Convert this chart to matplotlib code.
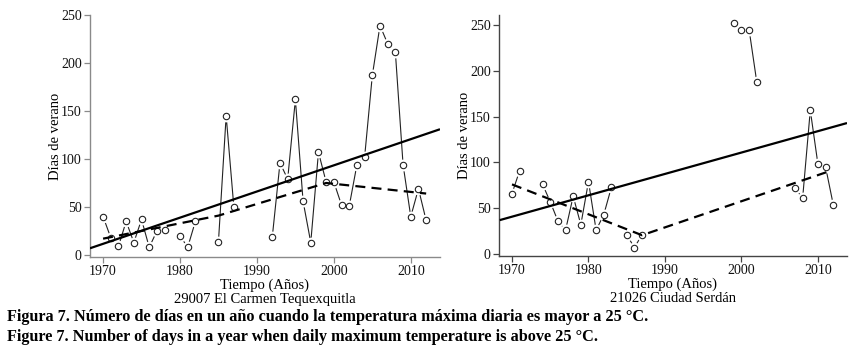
import numpy as np
import matplotlib
matplotlib.use("Agg")
import matplotlib.pyplot as plt

plt.rcParams['font.family'] = ['Liberation Serif', 'DejaVu Serif']

nan = np.nan
# ---- Panel 1: 29007 El Carmen Tequexquitla ----
years1 = list(range(1970, 2013))
vals1 = [40, 18, 9, 35, 13, 37, 8, 25, 26, nan,
         20, 8, 35, nan, nan, 14, 145, 50, nan, nan,
         nan, nan, 19, 96, 79, 162, 56, 13, 107, 76,
         76, 52, 51, 94, 102, 187, 239, 220, 211, 94,
         40, 69, 36]
trend1_x = [1968.3, 2013.8]
trend1_y = [7, 131]
smooth1_x = [1970, 1985, 1999, 2012]
smooth1_y = [17, 41, 75, 64]

# ---- Panel 2: 21026 Ciudad Serdán ----
years2 = list(range(1970, 2013))
vals2 = [66, 91, nan, nan, 76, 57, 36, 26, 63, 32,
         79, 26, 43, 73, nan, 21, 7, 21, nan, nan,
         nan, nan, nan, nan, nan, nan, nan, nan, nan, 252,
         245, 245, 188, nan, nan, nan, nan, 72, 61, 157,
         98, 95, 54]
trend2_x = [1968.4, 2013.8]
trend2_y = [37, 143]
smooth2_x = [1970, 1987, 2011.7]
smooth2_y = [76, 20.5, 91]

xticks = [1970, 1980, 1990, 2000, 2010]
yticks = [0, 50, 100, 150, 200, 250]

W, H = 853, 355
fig = plt.figure(figsize=(W / 100, H / 100), dpi=100)

def px_axes(x0, y0, x1, y1):
    return fig.add_axes([x0 / W, 1 - y1 / H, (x1 - x0) / W, (y1 - y0) / H])

def draw(ax, years, vals, tx, ty, sx, sy, ylim, spine_col, station):
    ax.plot(years, vals, color='#222222', lw=0.8, zorder=2)
    ax.plot(years, vals, ls='none', marker='o', ms=8.5, mfc='white',
            mec='none', zorder=3)
    ax.plot(years, vals, ls='none', marker='o', ms=4.6, mfc='white',
            mec='#222222', mew=0.8, zorder=4)
    ax.plot(tx, ty, color='black', lw=1.6, zorder=5, solid_capstyle='butt')
    ax.plot(sx, sy, color='black', lw=1.6, ls=(0, (4.5, 2.8)), zorder=5)
    ax.set_xlim(1968.3, 2013.8)
    ax.set_ylim(*ylim)
    ax.set_xticks(xticks)
    ax.set_yticks(yticks)
    for s in ['top', 'right']:
        ax.spines[s].set_visible(False)
    for s in ['left', 'bottom']:
        ax.spines[s].set_color(spine_col)
        ax.spines[s].set_linewidth(1.0)
    ax.tick_params(direction='out', length=4, width=0.9, color=spine_col,
                   labelsize=10, pad=2, labelcolor='#111111')
    ax.set_ylabel('Días de verano', fontsize=10.5, labelpad=-0.5)
    ax.set_xlabel('Tiempo (Años)\n' + station, fontsize=10.5,
                  labelpad=0, linespacing=1.08)
    ax.patch.set_visible(False)

ax1 = px_axes(90, 15, 440, 257)
draw(ax1, years1, vals1, trend1_x, trend1_y, smooth1_x, smooth1_y,
     (-2.1, 250), '#8a8a8a', '29007 El Carmen Tequexquitla')

ax2 = px_axes(499, 15, 847, 256)
draw(ax2, years2, vals2, trend2_x, trend2_y, smooth2_x, smooth2_y,
     (-2.2, 261), '#444444', '21026 Ciudad Serdán')

fig.text(7 / W, 1 - 317 / H,
         'Figura 7. Número de días en un año cuando la temperatura máxima diaria es mayor a 25 °C.',
         fontsize=11.7, fontweight='bold', va='center', ha='left')
fig.text(7 / W, 1 - 337 / H,
         'Figure 7. Number of days in a year when daily maximum temperature is above 25 °C.',
         fontsize=11.7, fontweight='bold', va='center', ha='left')

fig.savefig('out.png', dpi=100)
